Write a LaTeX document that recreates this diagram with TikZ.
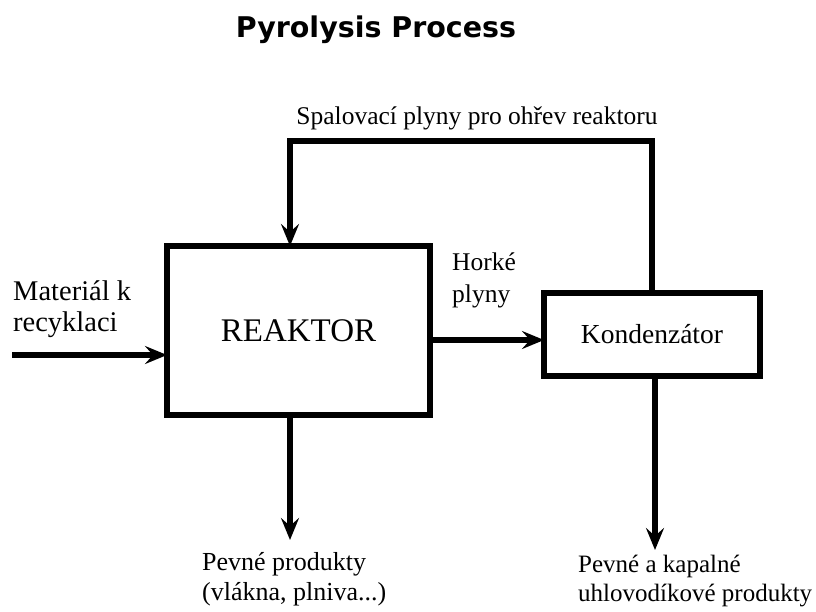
\documentclass[tikz,border=0pt]{standalone}
\usepackage{fontspec}
\setmainfont{Liberation Serif}
\newfontfamily\titlefont{DejaVu Sans}
\usetikzlibrary{arrows.meta}
\begin{document}
\begin{tikzpicture}[x=1pt,y=-1pt,
  box/.style={draw=black,line width=6pt,fill=white,inner sep=0pt,outer sep=0pt},
  flow/.style={line width=6pt,-{Stealth[length=22pt,width=18pt,inset=8pt]}},
  lbl/.style={font=\fontsize{25.5}{31}\selectfont,align=left,inner sep=0pt}]
\useasboundingbox (0,0) rectangle (816,611);
\node[font=\titlefont\bfseries\fontsize{28.5}{32}\selectfont] (title) at (376,30) {Pyrolysis Process};
\node[box,minimum width=263pt,minimum height=169pt,font=\fontsize{33}{38}\selectfont] (reak) at (298.5,330.5) {REAKTOR};
\node[box,minimum width=216pt,minimum height=83pt,font=\fontsize{27.5}{32}\selectfont] (kond) at (652,334.5) {Kondenzátor};
\coordinate (in) at (12,355);
\coordinate (tl) at (290,141);
\coordinate (tr) at (652,141);
\coordinate (out1) at (290,540);
\coordinate (out2) at (655,550);
\draw[flow] (in) -- (reak.west |- in);
\draw[flow] (reak.east |- 0,340) -- (kond.west |- 0,340);
\draw[line width=6pt,line join=miter] (kond.north) -- (tr) -- (tl) -- (290,150);
\draw[flow] (tl) -- (reak.north -| tl);
\draw[flow] (reak.south -| out1) -- (out1);
\draw[flow] (kond.south -| out2) -- (out2);
\node[lbl,anchor=center] (spal) at (477,118) {Spalovací plyny pro ohřev reaktoru};
\node[lbl,font=\fontsize{28.5}{31}\selectfont,anchor=north west] (mat) at (13,280) {Materiál k\\recyklaci};
\node[lbl,font=\fontsize{25.5}{32}\selectfont,anchor=north west] (hork) at (452,253) {Horké\\plyny};
\node[lbl,font=\fontsize{26}{30}\selectfont,anchor=north west] (pev1) at (202,552) {Pevné produkty\\(vlákna, plniva...)};
\node[lbl,font=\fontsize{25}{29}\selectfont,anchor=north west] (pev2) at (578,555) {Pevné a kapalné\\uhlovodíkové produkty};
\end{tikzpicture}
\end{document}
